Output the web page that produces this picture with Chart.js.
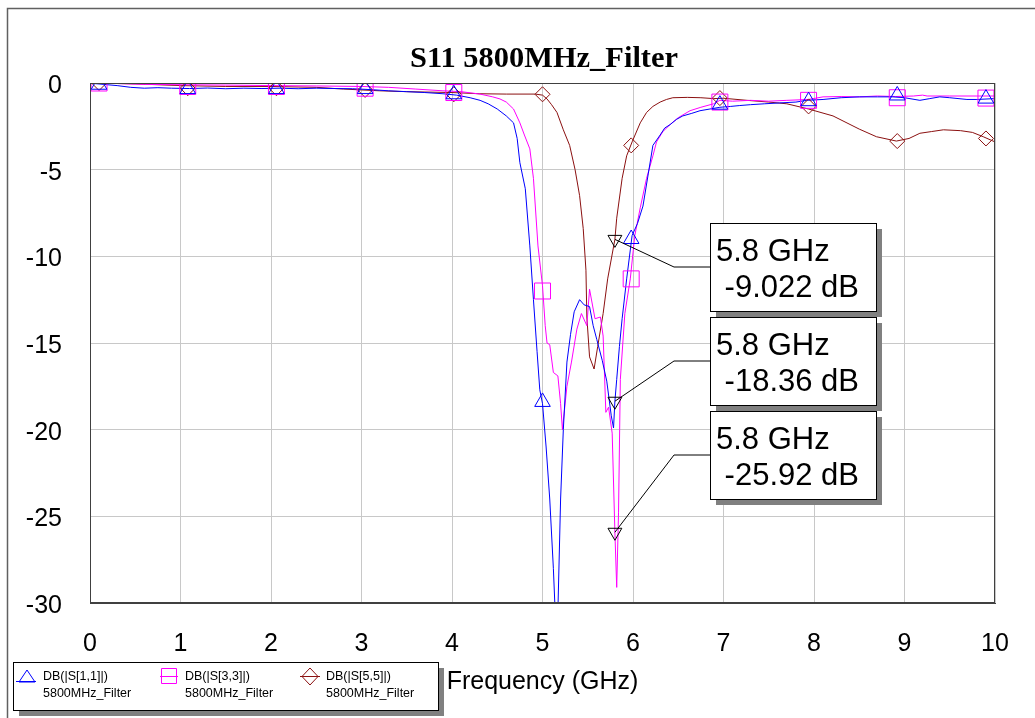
<!DOCTYPE html>
<html><head><meta charset="utf-8">
<script src="https://cdn.jsdelivr.net/npm/chart.js@4/dist/chart.umd.min.js"></script>
<style>html,body{margin:0;padding:0;background:#fff}#wrap{width:1035px;height:718px;position:relative}</style>
</head><body><div id="wrap"><canvas id="c"></canvas></div>
<script>
// ---------------- DATA ----------------
const chartTitle = 'S11 5800MHz_Filter';
const xTitle = 'Frequency (GHz)';
const xTicks = [0,1,2,3,4,5,6,7,8,9,10];
const yTicks = [0,-5,-10,-15,-20,-25,-30];

const s11Name = 'DB(|S[1,1]|)';
const s33Name = 'DB(|S[3,3]|)';
const s55Name = 'DB(|S[5,5]|)';
const docName = '5800MHz_Filter';

const s11Freq = [0.02,0.15,0.3,0.45,0.6,0.75,0.9,1.1,1.3,1.5,1.7,1.9,2.1,2.3,2.5,2.7,2.9,3.1,3.3,3.5,3.7,3.9,4.05,4.2,4.31,4.4,4.5,4.6,4.68,4.72,4.75,4.81,4.86,4.9,4.94,4.97,5.0,5.04,5.08,5.12,5.14,5.17,5.2,5.23,5.27,5.31,5.35,5.41,5.46,5.52,5.56,5.6,5.66,5.71,5.76,5.785,5.8,5.82,5.85,5.88,5.93,5.99,6.05,6.11,6.17,6.22,6.3,6.35,6.41,6.48,6.55,6.65,6.74,6.85,6.96,7.08,7.18,7.3,7.45,7.62,7.8,7.92,8.1,8.3,8.5,8.7,8.87,9.0,9.17,9.28,9.39,9.5,9.69,9.8,10.0];
const s11Db   = [-0.02,-0.08,-0.15,-0.25,-0.3,-0.27,-0.3,-0.32,-0.29,-0.33,-0.3,-0.32,-0.3,-0.33,-0.3,-0.32,-0.33,-0.38,-0.45,-0.5,-0.55,-0.62,-0.7,-0.85,-1.0,-1.2,-1.5,-1.9,-2.3,-3.2,-4.6,-6.1,-9.4,-12.5,-15.5,-17.7,-18.5,-21,-24,-28,-30.5,-30.5,-24,-20,-16.1,-14.5,-13.2,-12.5,-12.8,-12.9,-14,-14.8,-16,-17.2,-19.2,-19.9,-18.36,-17.1,-15.2,-13.6,-11.3,-8.8,-8.1,-7.1,-5.2,-3.6,-3.0,-2.6,-2.4,-2.1,-1.9,-1.75,-1.6,-1.5,-1.4,-1.35,-1.3,-1.25,-1.2,-1.15,-1.1,-1.0,-0.95,-0.85,-0.8,-0.8,-0.8,-0.85,-1.0,-0.9,-0.8,-0.85,-0.95,-0.95,-0.9];

const s33Freq = [0.02,0.3,0.6,1.0,1.5,2.0,2.5,3.0,3.3,3.6,3.9,4.1,4.31,4.45,4.53,4.6,4.68,4.75,4.8,4.86,4.9,4.95,5.0,5.03,5.05,5.08,5.12,5.17,5.2,5.22,5.27,5.32,5.38,5.43,5.49,5.52,5.58,5.64,5.67,5.7,5.73,5.77,5.8,5.82,5.84,5.86,5.91,5.97,6.02,6.08,6.15,6.22,6.26,6.33,6.41,6.5,6.63,6.75,6.89,6.96,7.1,7.3,7.5,7.7,7.94,8.1,8.3,8.5,8.7,8.9,9.1,9.2,9.25,9.5,9.8,10.0];
const s33Db   = [0,-0.03,-0.08,-0.1,-0.12,-0.15,-0.17,-0.2,-0.25,-0.35,-0.45,-0.5,-0.64,-0.8,-0.92,-1.1,-1.5,-2.3,-3.0,-3.8,-5.5,-9.4,-11.7,-14,-15,-15.1,-16.7,-16.9,-18.5,-20,-17.5,-16.1,-14.2,-13.3,-14,-11.9,-13.6,-13.5,-14.6,-19,-18.7,-20.2,-25.92,-29.1,-24.8,-17.1,-13.3,-11.3,-8.8,-7.2,-5.5,-4.2,-3.4,-2.8,-2.4,-2.0,-1.6,-1.4,-1.2,-1.0,-1.05,-1.0,-1.05,-1.0,-0.95,-0.8,-0.78,-0.8,-0.75,-0.78,-0.75,-0.7,-0.75,-0.75,-0.75,-0.75];

const s55Freq = [0.02,0.5,1.0,1.5,2.0,2.5,2.8,3.0,3.2,3.5,4.0,4.3,4.6,4.92,5.0,5.05,5.1,5.16,5.23,5.3,5.36,5.41,5.45,5.48,5.49,5.52,5.57,5.61,5.67,5.72,5.8,5.82,5.88,5.93,5.99,6.08,6.15,6.22,6.3,6.37,6.44,6.6,6.75,6.89,7.0,7.26,7.5,7.7,7.94,8.21,8.5,8.69,8.91,9.05,9.17,9.3,9.43,9.62,9.75,9.87,10.0];
const s55Db   = [0,-0.05,-0.15,-0.2,-0.2,-0.25,-0.35,-0.4,-0.45,-0.5,-0.55,-0.62,-0.64,-0.64,-0.7,-0.92,-1.25,-1.7,-2.7,-3.6,-5.0,-6.5,-8.4,-10.8,-13.5,-15.8,-16.5,-15.2,-13.3,-11.3,-9.022,-7.8,-5.5,-4.2,-3.4,-2.3,-1.7,-1.35,-1.1,-0.95,-0.85,-0.83,-0.85,-0.9,-0.88,-1.0,-1.1,-1.2,-1.5,-1.9,-2.66,-3.1,-3.35,-3.2,-2.9,-2.8,-2.7,-2.75,-2.85,-3.1,-3.4];

const markerFreq = [0.1,1.08,2.06,3.04,4.02,5.0,5.98,6.96,7.94,8.92,9.9];
const s11Markers = [-0.1,-0.35,-0.35,-0.35,-0.65,-18.4,-9.0,-1.25,-1.05,-0.72,-0.9];
const s33Markers = [0.0,-0.2,-0.2,-0.3,-0.55,-12.0,-11.3,-1.1,-1.0,-0.85,-0.87];
const s55Markers = [0.0,-0.3,-0.3,-0.4,-0.65,-0.65,-3.6,-0.87,-1.35,-3.35,-3.2];

const readoutFreq = 5.8;
const readoutDb = [-9.022, -18.36, -25.92];
const readoutText = [['5.8 GHz',' -9.022 dB'],['5.8 GHz',' -18.36 dB'],['5.8 GHz',' -25.92 dB']];

// ---------------- STYLE ----------------
const BLUE = '#0000ff', MAG = '#ff00ff', BROWN = '#8b1010';
const SANS = '"Liberation Sans", Arial, sans-serif';
const SERIF = '"Liberation Serif", "Times New Roman", serif';

const pts = (xs, ys) => xs.map((x, i) => ({x, y: ys[i]}));

const decor = {
  id: 'decor',
  beforeDraw(chart) {
    const c = chart.ctx;
    c.save();
    c.fillStyle = '#fff';
    c.fillRect(0, 0, chart.width, chart.height);
    c.strokeStyle = '#606060';
    c.lineWidth = 1.5;
    c.beginPath();
    c.moveTo(7.5, 718); c.lineTo(7.5, 8.5); c.lineTo(1035, 8.5);
    c.stroke();
    c.restore();
  },
  afterDraw(chart) {
    const c = chart.ctx, a = chart.chartArea;
    const xs = chart.scales.x, ys = chart.scales.y;
    c.save();
    c.strokeStyle = '#404040'; c.lineWidth = 1;
    c.strokeRect(a.left + 0.5, a.top + 0.5, a.right - a.left - 1, a.bottom - a.top - 1);
    c.fillStyle = '#000';
    c.font = 'bold 30px ' + SERIF;
    c.textBaseline = 'alphabetic';
    c.textAlign = 'center';
    const tw = c.measureText(chartTitle).width;
    c.save();
    c.translate(544, 67);
    c.scale(268 / tw, 1);
    c.fillText(chartTitle, 0, 0);
    c.restore();
    const boxTops = [223, 317, 411];
    const bx = 710, bw = 166, bh = 88;
    c.textAlign = 'left';
    boxTops.forEach((t, i) => {
      const px = xs.getPixelForValue(readoutFreq);
      const py = ys.getPixelForValue(readoutDb[i]);
      const my = t + bh / 2;
      c.strokeStyle = '#000'; c.lineWidth = 1;
      c.beginPath();
      c.moveTo(px, py); c.lineTo(674, my); c.lineTo(bx, my);
      c.stroke();
      c.fillStyle = '#808080';
      c.fillRect(bx + 6, t + 6, bw, bh);
      c.fillStyle = '#fff';
      c.fillRect(bx, t, bw, bh);
      c.strokeStyle = '#000';
      c.strokeRect(bx + 0.5, t + 0.5, bw, bh);
      c.fillStyle = '#000';
      c.font = '31px ' + SANS;
      c.fillText(readoutText[i][0], 716, t + 38);
      c.fillText(readoutText[i][1], 716, t + 74);
    });
    const lx = 13, ly = 662, lw = 425, lh = 48;
    c.fillStyle = '#808080';
    c.fillRect(lx + 6, ly + 6, lw, lh);
    c.fillStyle = '#fff';
    c.fillRect(lx, ly, lw, lh);
    c.strokeStyle = '#000'; c.lineWidth = 1;
    c.strokeRect(lx + 0.5, ly + 0.5, lw, lh);
    const items = [
      {name: s11Name, color: BLUE, style: 'tri', sx: 27, tx: 43},
      {name: s33Name, color: MAG, style: 'sq', sx: 169, tx: 185},
      {name: s55Name, color: BROWN, style: 'dia', sx: 310, tx: 326}
    ];
    items.forEach(it => {
      c.strokeStyle = it.color; c.lineWidth = 1;
      c.beginPath();
      if (it.style === 'tri') {
        c.moveTo(it.sx - 11, 681.5); c.lineTo(it.sx + 9, 681.5);
        c.moveTo(it.sx, 670); c.lineTo(it.sx + 8, 682); c.lineTo(it.sx - 8, 682); c.closePath();
      } else if (it.style === 'sq') {
        c.moveTo(it.sx - 9, 676.5); c.lineTo(it.sx + 9, 676.5);
        c.rect(it.sx - 7.5, 668.5, 15, 15);
      } else {
        c.moveTo(it.sx - 10, 676.5); c.lineTo(it.sx + 10, 676.5);
        c.moveTo(it.sx, 668); c.lineTo(it.sx + 8, 676.5); c.lineTo(it.sx, 685); c.lineTo(it.sx - 8, 676.5); c.closePath();
      }
      c.stroke();
      c.fillStyle = '#000';
      c.font = '12.5px ' + SANS;
      c.textBaseline = 'alphabetic';
      c.fillText(it.name, it.tx, 680);
      c.fillText(docName, it.tx, 697);
    });
    c.restore();
  }
};

const lineDs = (label, xs, ys, color) => ({
  label, data: pts(xs, ys), borderColor: color, backgroundColor: color,
  borderWidth: 1, pointRadius: 0, tension: 0, clip: 0
});
const markDs = (label, ys, color, style, r) => ({
  label, data: pts(markerFreq, ys), showLine: false, borderColor: color,
  backgroundColor: 'rgba(0,0,0,0)', pointStyle: style, pointRadius: r,
  pointBorderWidth: 1, pointBorderColor: color, pointBackgroundColor: 'rgba(0,0,0,0)', clip: 0
});

new Chart(document.getElementById('c'), {
  type: 'line',
  data: {
    datasets: [
      {label: 'readout', data: readoutDb.map(v => ({x: readoutFreq, y: v})), showLine: false,
       pointStyle: 'triangle', rotation: 180, pointRotation: 180, pointRadius: 8, pointBorderWidth: 1,
       pointBorderColor: '#000', pointBackgroundColor: 'rgba(0,0,0,0)', clip: 0},
      markDs('s11m', s11Markers, BLUE, 'triangle', 9),
      markDs('s33m', s33Markers, MAG, 'rect', 11.3),
      markDs('s55m', s55Markers, BROWN, 'rectRot', 7.5),
      lineDs(s11Name, s11Freq, s11Db, BLUE),
      lineDs(s33Name, s33Freq, s33Db, MAG),
      lineDs(s55Name, s55Freq, s55Db, BROWN)
    ]
  },
  options: {
    responsive: true, maintainAspectRatio: false, animation: false,
    devicePixelRatio: 1,
    layout: {padding: {left: 0, top: 83, right: 40, bottom: 0}},
    plugins: {legend: {display: false}, tooltip: {enabled: false}, title: {display: false}},
    scales: {
      x: {
        type: 'linear', min: 0, max: 10,
        afterFit: s => { s.height = 115; },
        afterBuildTicks: s => { s.ticks = xTicks.map(v => ({value: v})); },
        grid: {color: '#c8c8c8', lineWidth: 1, drawTicks: false},
        border: {display: true, color: '#404040', width: 1},
        ticks: {autoSkip: false, maxRotation: 0, padding: 26, color: '#000', font: {family: SANS, size: 25}},
        title: {display: true, text: xTitle, color: '#000', font: {family: SANS, size: 25}, padding: {top: 0, bottom: 21}}
      },
      y: {
        type: 'linear', min: -30, max: 0,
        afterFit: s => { s.width = 90; },
        afterBuildTicks: s => { s.ticks = yTicks.map(v => ({value: v})); },
        grid: {color: '#c8c8c8', lineWidth: 1, drawTicks: false},
        border: {display: true, color: '#404040', width: 1},
        ticks: {padding: 28, labelOffset: 3, color: '#000', font: {family: SANS, size: 25}}
      }
    }
  },
  plugins: [decor]
});
</script>
</body></html>
